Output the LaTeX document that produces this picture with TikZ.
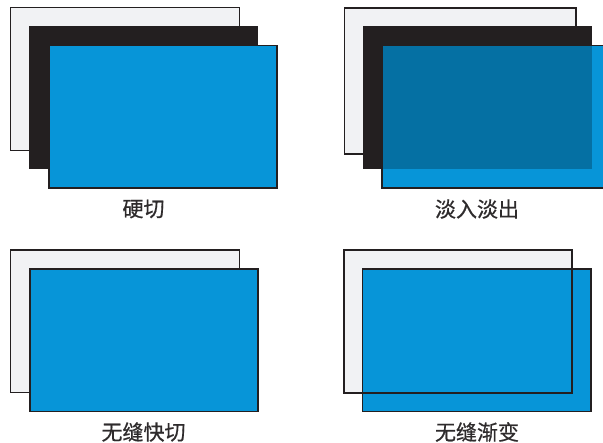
\documentclass[tikz,border=0pt]{standalone}
\usepackage{fontspec}
\newfontfamily\cjk[FakeBold=0.6]{Noto Sans CJK SC}
\definecolor{paper}{HTML}{F1F2F4}
\definecolor{ink}{HTML}{231F20}
\definecolor{cyanblue}{HTML}{0795D8}
\definecolor{deepblue}{HTML}{0570A3}
\definecolor{labelink}{HTML}{2E2B2C}
\tikzset{
  lightframe/.style={fill=paper,draw=ink,line width=1.9pt},
  darkframe/.style={fill=ink,draw=none},
  blueframe/.style={fill=cyanblue,draw=ink,line width=1.9pt},
  outlineframe/.style={draw=ink,line width=1.9pt},
  caption/.style={font=\cjk\fontsize{21}{22}\selectfont,text=labelink,inner sep=0pt,anchor=center}
}
\begin{document}
\begin{tikzpicture}[x=1pt,y=-1pt]
\useasboundingbox (0,0) rectangle (603,443);
\fill[white] (0,0) rectangle (603,443);
% panel 1
\draw[lightframe] (10.5,7.5) rectangle (239.5,150.5);
\fill[darkframe] (29,26) rectangle (258,169);
\draw[blueframe] (48.7,45.5) rectangle (277.3,188.3);
\node[caption] (a) at (143.5,209) {硬切};
% panel 2
\draw[lightframe] (344.5,8) rectangle (576,154);
\fill[darkframe] (363,26.5) rectangle (591.5,169);
\draw[blueframe] (381.8,45.5) rectangle (610,188.3);
\fill[deepblue] (382.7,46.5) rectangle (591.5,169);
\node[caption] (b) at (477,209) {淡入淡出};
% panel 3
\draw[lightframe] (10.5,250) rectangle (239.5,392.5);
\draw[blueframe] (29.7,269) rectangle (258.3,411.5);
\node[caption] (c) at (143.5,432) {无缝快切};
% panel 4
\draw[lightframe] (343.8,250) rectangle (572,392.8);
\draw[blueframe] (362.5,269) rectangle (591,411.5);
\draw[outlineframe] (343.8,250) rectangle (572,392.8);
\node[caption] (d) at (477,432) {无缝渐变};
\end{tikzpicture}
\end{document}
